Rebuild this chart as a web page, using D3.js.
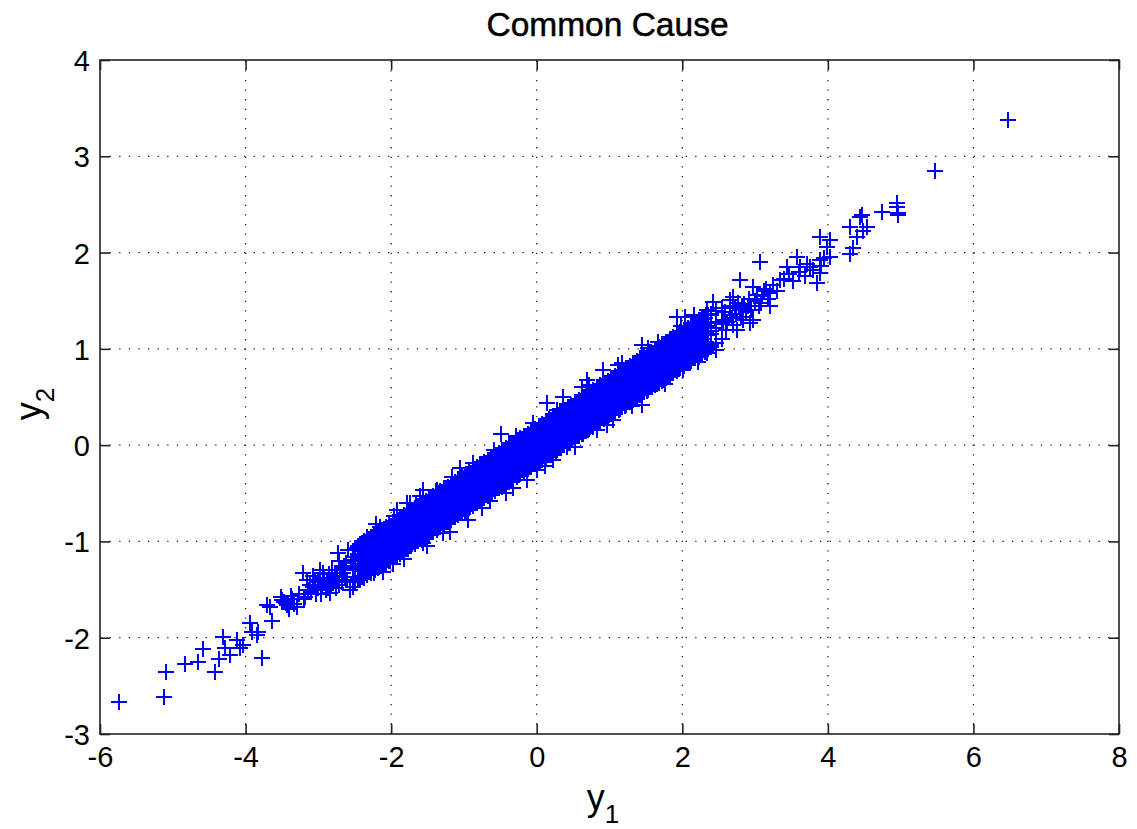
<!DOCTYPE html>
<html>
<head>
<meta charset="utf-8">
<script src="https://cdn.jsdelivr.net/npm/d3@7"></script>
<style>
  html, body { margin: 0; padding: 0; background: #fff; }
  svg { display: block; }
  text { font-family: "Liberation Sans", Arial, Helvetica, sans-serif; fill: #000; }
</style>
</head>
<body>
<svg id="chart" width="1137" height="829"></svg>
<script>
// ---------------- data ----------------
const titleText = "Common Cause";
const xTicks = [-6, -4, -2, 0, 2, 4, 6, 8];
const yTicks = [-3, -2, -1, 0, 1, 2, 3, 4];
const xDomain = [-6, 8];
const yDomain = [-3, 4];

// lower-left tail (y1, y2)
const lowerTail = [
  [-5.74,-2.67],[-5.12,-2.62],[-5.09,-2.36],[-4.83,-2.27],[-4.65,-2.25],[-4.58,-2.12],
  [-4.42,-2.36],[-4.36,-2.22],[-4.31,-1.99],[-4.28,-2.11],[-4.21,-2.18],[-4.12,-2.02],
  [-4.08,-2.11],[-4.04,-2.08],[-3.94,-1.85],[-3.91,-1.94],[-3.84,-1.97],[-3.83,-1.94],
  [-3.78,-2.21],[-3.71,-1.66],[-3.66,-1.68],[-3.64,-1.83],[-3.52,-1.58],[-3.50,-1.61],
  [-3.47,-1.63],[-3.45,-1.64],[-3.43,-1.66],[-3.40,-1.70],[-3.38,-1.57],[-3.36,-1.60],
  [-3.33,-1.65],[-3.29,-1.68],[-3.26,-1.55],[-3.21,-1.33],[-3.20,-1.60],[-3.18,-1.58],
  [-3.16,-1.40],[-3.14,-1.50],[-3.12,-1.45],[-3.10,-1.53],[-3.08,-1.36],[-3.07,-1.47],
  [-3.05,-1.40],[-3.03,-1.55],[-3.01,-1.42],[-3.00,-1.48],[-2.98,-1.30],[-2.96,-1.55],
  [-2.95,-1.45],[-2.93,-1.33],[-2.92,-1.38],[-2.90,-1.50],[-2.88,-1.43],[-2.87,-1.48],
  [-2.86,-1.34],[-2.84,-1.54],[-2.82,-1.46],[-2.81,-1.30],[-2.80,-1.40],[-2.78,-1.40],
  [-2.77,-1.33],[-2.76,-1.48],[-2.74,-1.36],[-2.73,-1.12],[-2.72,-1.20],[-2.71,-1.45],
  [-2.70,-1.30],[-2.68,-1.42],[-2.67,-1.28],[-2.66,-1.33],[-2.65,-1.25],[-2.64,-1.37],
  [-2.62,-1.22],[-2.61,-1.40],[-2.59,-1.09],[-2.57,-1.50],[-2.55,-1.20],[-2.43,-1.30],
  [-2.43,-1.16],[-2.33,-0.95],[-2.29,-1.12],[-2.20,-1.06],[-2.15,-0.85],[-2.06,-1.02],
  [-2.02,-1.16],[-1.98,-1.23],[-1.92,-0.67],[-1.88,-0.95],[-1.74,-0.60],[-1.70,-0.78],
  [-1.60,-0.53],[-1.56,-1.02],[-1.47,-0.75],[-1.37,-0.47]
];

// dense central band, irregular points (y1, y2)
const centralBand = [
  [-2.52,-1.47],[-2.52,-1.30],[-2.52,-1.16],
  [-2.44,-1.40],[-2.44,-1.25],[-2.44,-1.05],
  [-2.37,-1.36],[-2.37,-1.20],[-2.37,-1.02],
  [-2.31,-1.30],[-2.31,-1.12],[-2.31,-0.99],
  [-2.24,-1.33],[-2.24,-1.17],[-2.24,-1.04],[-2.24,-0.93],
  [-2.16,-1.27],[-2.16,-1.10],[-2.16,-0.96],
  [-2.08,-1.22],[-2.08,-1.06],[-2.08,-0.90],
  [-2.01,-1.20],[-2.01,-1.01],[-2.01,-0.86],[-2.01,-1.10],
  [-1.93,-1.14],[-1.93,-0.98],[-1.93,-0.84],
  [-1.87,-1.10],[-1.87,-0.95],[-1.87,-0.78],[-1.87,-1.02],
  [-1.79,-1.08],[-1.79,-0.90],[-1.79,-0.74],
  [-1.72,-1.03],[-1.72,-0.88],[-1.72,-0.72],[-1.72,-0.95],
  [-1.64,-1.00],[-1.64,-0.85],[-1.64,-0.69],
  [-1.57,-0.96],[-1.57,-0.80],[-1.57,-0.66],[-1.57,-0.88],
  [-1.50,-0.93],[-1.50,-0.76],[-1.50,-0.61],
  [-1.43,-0.90],[-1.43,-0.72],[-1.43,-0.58],[-1.43,-0.80],
  [-1.35,-0.86],[-1.35,-0.69],[-1.35,-0.52],
  [-1.28,-0.83],[-1.28,-0.65],[-1.28,-0.49],[-1.28,-0.73],
  [-1.21,-0.79],[-1.21,-0.61],[-1.21,-0.45],
  [-1.13,-0.75],[-1.13,-0.57],[-1.13,-0.42],[-1.13,-0.66],
  [-1.06,-0.70],[-1.06,-0.54],[-1.06,-0.37],
  [-0.99,-0.68],[-0.99,-0.50],[-0.99,-0.33],[-0.99,-0.58],
  [-0.91,-0.64],[-0.91,-0.46],[-0.91,-0.30],
  [-0.84,-0.60],[-0.84,-0.43],[-0.84,-0.26],[-0.84,-0.50],
  [-0.77,-0.56],[-0.77,-0.39],[-0.77,-0.22],
  [-0.69,-0.52],[-0.69,-0.35],[-0.69,-0.19],[-0.69,-0.43],
  [-0.62,-0.49],[-0.62,-0.32],[-0.62,-0.15],
  [-0.55,-0.45],[-0.55,-0.28],[-0.55,-0.11],[-0.55,-0.36],
  [-0.47,-0.42],[-0.47,-0.24],[-0.47,-0.08],
  [-0.40,-0.38],[-0.40,-0.21],[-0.40,-0.04],[-0.40,-0.29],
  [-0.33,-0.35],[-0.33,-0.17],[-0.33,-0.01],
  [-0.25,-0.31],[-0.25,-0.13],[-0.25,0.03],[-0.25,-0.22],
  [-0.18,-0.27],[-0.18,-0.09],[-0.18,0.07],
  [-0.11,-0.23],[-0.11,-0.06],[-0.11,0.10],[-0.11,-0.15],
  [-0.03,-0.20],[-0.03,-0.02],[-0.03,0.14],
  [0.04,-0.17],[0.04,0.01],[0.04,0.18],[0.04,-0.08],
  [0.11,-0.13],[0.11,0.05],[0.11,0.21],
  [0.19,-0.10],[0.19,0.09],[0.19,0.25],[0.19,0.00],
  [0.26,-0.06],[0.26,0.12],[0.26,0.29],
  [0.33,-0.03],[0.33,0.16],[0.33,0.32],[0.33,0.07],
  [0.41,0.01],[0.41,0.20],[0.41,0.36],
  [0.48,0.05],[0.48,0.23],[0.48,0.39],[0.48,0.14],
  [0.55,0.09],[0.55,0.27],[0.55,0.43],
  [0.63,0.12],[0.63,0.31],[0.63,0.47],[0.63,0.22],
  [0.70,0.16],[0.70,0.34],[0.70,0.51],
  [0.77,0.19],[0.77,0.38],[0.77,0.55],[0.77,0.29],
  [0.85,0.23],[0.85,0.42],[0.85,0.58],
  [0.92,0.27],[0.92,0.46],[0.92,0.62],[0.92,0.36],
  [0.99,0.31],[0.99,0.49],[0.99,0.66],
  [1.07,0.34],[1.07,0.53],[1.07,0.70],[1.07,0.44],
  [1.14,0.38],[1.14,0.57],[1.14,0.74],
  [1.21,0.41],[1.21,0.60],[1.21,0.77],[1.21,0.51],
  [1.29,0.45],[1.29,0.64],[1.29,0.81],
  [1.36,0.49],[1.36,0.67],[1.36,0.85],[1.36,0.58],
  [1.43,0.52],[1.43,0.71],[1.43,0.89],
  [1.51,0.56],[1.51,0.75],[1.51,0.92],[1.51,0.66],
  [1.58,0.60],[1.58,0.79],[1.58,0.96],
  [1.65,0.64],[1.65,0.82],[1.65,1.00],[1.65,0.73],
  [1.73,0.68],[1.73,0.86],[1.73,1.04],
  [1.80,0.71],[1.80,0.89],[1.80,1.07],[1.80,0.80],
  [1.87,0.75],[1.87,0.93],[1.87,1.10],
  [1.95,0.79],[1.95,0.97],[1.95,1.14],[1.95,0.88],
  [2.02,0.82],[2.02,1.00],[2.02,1.18],
  [2.09,0.86],[2.09,1.04],[2.09,1.21],
  [2.17,0.90],[2.17,1.08],[2.17,1.25],[2.17,0.98],
  [2.24,0.94],[2.24,1.11],[2.24,1.28],
  [2.31,0.97],[2.31,1.15],[2.31,1.32],
  [2.39,1.02],[2.39,1.19],[2.39,1.35],
  [2.46,1.06],[2.46,1.22],[2.46,1.39],
  [2.54,1.10],[2.54,1.26],[2.54,1.42]
];

// densely packed core of the band: each row is [y1, y2, y2, y2, y2]
const bandCore = [
  [-2.50,-1.42,-1.28,-1.19,-1.07],[-2.45,-1.38,-1.28,-1.13,-1.05],
  [-2.40,-1.37,-1.23,-1.14,-1.02],[-2.35,-1.33,-1.22,-1.09,-1.01],
  [-2.30,-1.32,-1.18,-1.07,-0.97],[-2.25,-1.28,-1.17,-1.06,-0.95],
  [-2.20,-1.27,-1.13,-1.03,-0.92],[-2.15,-1.25,-1.12,-0.99,-0.91],
  [-2.10,-1.21,-1.10,-0.97,-0.87],[-2.05,-1.19,-1.06,-0.96,-0.86],
  [-2.00,-1.16,-1.04,-0.92,-0.84],[-1.95,-1.15,-1.01,-0.91,-0.80],
  [-1.90,-1.11,-1.00,-0.87,-0.78],[-1.85,-1.10,-0.96,-0.86,-0.75],
  [-1.80,-1.06,-0.95,-0.82,-0.74],[-1.75,-1.05,-0.91,-0.81,-0.70],
  [-1.70,-1.01,-0.90,-0.77,-0.69],[-1.65,-1.00,-0.86,-0.76,-0.65],
  [-1.60,-0.96,-0.85,-0.72,-0.64],[-1.55,-0.95,-0.81,-0.71,-0.60],
  [-1.50,-0.91,-0.80,-0.67,-0.59],[-1.45,-0.90,-0.76,-0.66,-0.55],
  [-1.40,-0.86,-0.75,-0.62,-0.54],[-1.35,-0.85,-0.71,-0.61,-0.50],
  [-1.30,-0.81,-0.70,-0.57,-0.49],[-1.25,-0.80,-0.66,-0.56,-0.45],
  [-1.20,-0.76,-0.65,-0.52,-0.44],[-1.15,-0.75,-0.61,-0.51,-0.40],
  [-1.10,-0.71,-0.60,-0.47,-0.39],[-1.05,-0.70,-0.56,-0.46,-0.35],
  [-1.00,-0.66,-0.55,-0.42,-0.34],[-0.95,-0.65,-0.51,-0.41,-0.30],
  [-0.90,-0.61,-0.50,-0.37,-0.29],[-0.85,-0.60,-0.46,-0.36,-0.25],
  [-0.80,-0.56,-0.45,-0.32,-0.24],[-0.75,-0.55,-0.41,-0.31,-0.20],
  [-0.70,-0.51,-0.40,-0.27,-0.19],[-0.65,-0.50,-0.36,-0.26,-0.15],
  [-0.60,-0.46,-0.35,-0.22,-0.14],[-0.55,-0.45,-0.31,-0.21,-0.10],
  [-0.50,-0.41,-0.30,-0.17,-0.09],[-0.45,-0.40,-0.26,-0.16,-0.05],
  [-0.40,-0.36,-0.25,-0.12,-0.04],[-0.35,-0.35,-0.21,-0.11,0.00],
  [-0.30,-0.31,-0.20,-0.07,0.01],[-0.25,-0.30,-0.16,-0.06,0.05],
  [-0.20,-0.26,-0.15,-0.02,0.06],[-0.15,-0.25,-0.11,-0.01,0.10],
  [-0.10,-0.21,-0.10,0.03,0.11],[-0.05,-0.20,-0.06,0.04,0.15],
  [0.00,-0.16,-0.05,0.08,0.16],[0.05,-0.15,-0.01,0.09,0.20],
  [0.10,-0.11,0.00,0.13,0.21],[0.15,-0.10,0.04,0.14,0.25],
  [0.20,-0.06,0.05,0.18,0.26],[0.25,-0.05,0.09,0.19,0.30],
  [0.30,-0.01,0.10,0.23,0.31],[0.35,0.00,0.14,0.24,0.35],
  [0.40,0.04,0.15,0.28,0.36],[0.45,0.05,0.19,0.29,0.40],
  [0.50,0.09,0.20,0.33,0.41],[0.55,0.10,0.24,0.34,0.45],
  [0.60,0.14,0.25,0.38,0.46],[0.65,0.15,0.29,0.39,0.50],
  [0.70,0.19,0.30,0.43,0.51],[0.75,0.20,0.34,0.44,0.55],
  [0.80,0.24,0.35,0.48,0.56],[0.85,0.25,0.39,0.49,0.60],
  [0.90,0.29,0.40,0.53,0.61],[0.95,0.30,0.44,0.54,0.65],
  [1.00,0.34,0.45,0.58,0.66],[1.05,0.35,0.49,0.59,0.70],
  [1.10,0.39,0.50,0.63,0.71],[1.15,0.40,0.54,0.64,0.75],
  [1.20,0.44,0.55,0.68,0.76],[1.25,0.45,0.59,0.69,0.80],
  [1.30,0.49,0.60,0.73,0.81],[1.35,0.50,0.64,0.74,0.85],
  [1.40,0.54,0.65,0.78,0.86],[1.45,0.55,0.69,0.79,0.90],
  [1.50,0.59,0.70,0.83,0.91],[1.55,0.60,0.74,0.84,0.95],
  [1.60,0.64,0.75,0.88,0.96],[1.65,0.65,0.79,0.89,1.00],
  [1.70,0.69,0.80,0.93,1.01],[1.75,0.70,0.84,0.94,1.05],
  [1.80,0.74,0.85,0.98,1.06],[1.85,0.75,0.89,0.99,1.10],
  [1.90,0.79,0.90,1.03,1.11],[1.95,0.80,0.94,1.04,1.15],
  [2.00,0.84,0.95,1.08,1.16],[2.05,0.85,0.99,1.09,1.20],
  [2.10,0.89,1.00,1.13,1.21],[2.15,0.90,1.04,1.14,1.25],
  [2.20,0.94,1.05,1.18,1.26],[2.25,0.95,1.09,1.19,1.30],
  [2.30,0.99,1.10,1.23,1.31],[2.35,1.00,1.14,1.24,1.35],
  [2.40,1.04,1.15,1.28,1.36]
];

// second packed layer between the core columns: [y1, y2, y2, y2, y2, y2]
const bandFill = [
  [-2.425,-1.40,-1.31,-1.20,-1.10,-1.03],
  [-2.375,-1.38,-1.28,-1.18,-1.08,-1.00],[-2.325,-1.35,-1.26,-1.15,-1.05,-0.98],
  [-2.275,-1.33,-1.23,-1.13,-1.03,-0.95],[-2.225,-1.30,-1.21,-1.10,-1.00,-0.93],
  [-2.175,-1.28,-1.18,-1.08,-0.98,-0.90],[-2.125,-1.25,-1.16,-1.05,-0.95,-0.88],
  [-2.075,-1.23,-1.13,-1.03,-0.93,-0.85],[-2.025,-1.20,-1.11,-1.00,-0.90,-0.83],
  [-1.975,-1.18,-1.08,-0.98,-0.88,-0.80],[-1.925,-1.15,-1.06,-0.95,-0.85,-0.78],
  [-1.875,-1.13,-1.03,-0.93,-0.83,-0.75],[-1.825,-1.10,-1.01,-0.90,-0.80,-0.73],
  [-1.775,-1.08,-0.98,-0.88,-0.78,-0.70],[-1.725,-1.05,-0.96,-0.85,-0.75,-0.68],
  [-1.675,-1.03,-0.93,-0.83,-0.73,-0.65],[-1.625,-1.00,-0.91,-0.80,-0.70,-0.63],
  [-1.575,-0.98,-0.88,-0.78,-0.68,-0.60],[-1.525,-0.95,-0.86,-0.75,-0.65,-0.58],
  [-1.475,-0.93,-0.83,-0.73,-0.63,-0.55],[-1.425,-0.90,-0.81,-0.70,-0.60,-0.53],
  [-1.375,-0.88,-0.78,-0.68,-0.58,-0.50],[-1.325,-0.85,-0.76,-0.65,-0.55,-0.48],
  [-1.275,-0.83,-0.73,-0.63,-0.53,-0.45],[-1.225,-0.80,-0.71,-0.60,-0.50,-0.43],
  [-1.175,-0.78,-0.68,-0.58,-0.48,-0.40],[-1.125,-0.75,-0.66,-0.55,-0.45,-0.38],
  [-1.075,-0.73,-0.63,-0.53,-0.43,-0.35],[-1.025,-0.70,-0.61,-0.50,-0.40,-0.33],
  [-0.975,-0.68,-0.58,-0.48,-0.38,-0.30],[-0.925,-0.65,-0.56,-0.45,-0.35,-0.28],
  [-0.875,-0.63,-0.53,-0.43,-0.33,-0.25],[-0.825,-0.60,-0.51,-0.40,-0.30,-0.23],
  [-0.775,-0.58,-0.48,-0.38,-0.28,-0.20],[-0.725,-0.55,-0.46,-0.35,-0.25,-0.18],
  [-0.675,-0.53,-0.43,-0.33,-0.23,-0.15],[-0.625,-0.50,-0.41,-0.30,-0.20,-0.13],
  [-0.575,-0.48,-0.38,-0.28,-0.18,-0.10],[-0.525,-0.45,-0.36,-0.25,-0.15,-0.08],
  [-0.475,-0.43,-0.33,-0.23,-0.13,-0.05],[-0.425,-0.40,-0.31,-0.20,-0.10,-0.03],
  [-0.375,-0.38,-0.28,-0.18,-0.08,0.00],[-0.325,-0.35,-0.26,-0.15,-0.05,0.02],
  [-0.275,-0.33,-0.23,-0.13,-0.03,0.05],[-0.225,-0.30,-0.21,-0.10,0.00,0.07],
  [-0.175,-0.28,-0.18,-0.08,0.02,0.10],[-0.125,-0.25,-0.16,-0.05,0.05,0.12],
  [-0.075,-0.23,-0.13,-0.03,0.07,0.15],[-0.025,-0.20,-0.11,0.00,0.10,0.17],
  [0.025,-0.18,-0.08,0.02,0.12,0.20],[0.075,-0.15,-0.06,0.05,0.15,0.22],
  [0.125,-0.13,-0.03,0.07,0.17,0.25],[0.175,-0.10,-0.01,0.10,0.20,0.27],
  [0.225,-0.08,0.02,0.12,0.22,0.30],[0.275,-0.05,0.04,0.15,0.25,0.32],
  [0.325,-0.03,0.07,0.17,0.27,0.35],[0.375,0.00,0.09,0.20,0.30,0.37],
  [0.425,0.02,0.12,0.22,0.32,0.40],[0.475,0.05,0.14,0.25,0.35,0.42],
  [0.525,0.07,0.17,0.27,0.37,0.45],[0.575,0.10,0.19,0.30,0.40,0.47],
  [0.625,0.12,0.22,0.32,0.42,0.50],[0.675,0.15,0.24,0.35,0.45,0.52],
  [0.725,0.17,0.27,0.37,0.47,0.55],[0.775,0.20,0.29,0.40,0.50,0.57],
  [0.825,0.22,0.32,0.42,0.52,0.60],[0.875,0.25,0.34,0.45,0.55,0.62],
  [0.925,0.27,0.37,0.47,0.57,0.65],[0.975,0.30,0.39,0.50,0.60,0.67],
  [1.025,0.32,0.42,0.52,0.62,0.70],[1.075,0.35,0.44,0.55,0.65,0.72],
  [1.125,0.37,0.47,0.57,0.67,0.75],[1.175,0.40,0.49,0.60,0.70,0.77],
  [1.225,0.42,0.52,0.62,0.72,0.80],[1.275,0.45,0.54,0.65,0.75,0.82],
  [1.325,0.47,0.57,0.67,0.77,0.85],[1.375,0.50,0.59,0.70,0.80,0.87],
  [1.425,0.52,0.62,0.72,0.82,0.90],[1.475,0.55,0.64,0.75,0.85,0.92],
  [1.525,0.57,0.67,0.77,0.87,0.95],[1.575,0.60,0.69,0.80,0.90,0.97],
  [1.625,0.62,0.72,0.82,0.92,1.00],[1.675,0.65,0.74,0.85,0.95,1.02],
  [1.725,0.67,0.77,0.87,0.97,1.05],[1.775,0.70,0.79,0.90,1.00,1.07],
  [1.825,0.72,0.82,0.92,1.02,1.10],[1.875,0.75,0.84,0.95,1.05,1.12],
  [1.925,0.77,0.87,0.97,1.07,1.15],[1.975,0.80,0.89,1.00,1.10,1.17],
  [2.025,0.82,0.92,1.02,1.12,1.20],[2.075,0.85,0.94,1.05,1.15,1.22],
  [2.125,0.87,0.97,1.07,1.17,1.25],[2.175,0.90,0.99,1.10,1.20,1.27],
  [2.225,0.92,1.02,1.12,1.22,1.30],[2.275,0.95,1.04,1.15,1.25,1.32],
  [2.325,0.97,1.07,1.17,1.27,1.35]
];

// scattered points at the band's edges (y1, y2)
const bandEdges = [
  [-1.06,-0.24],[-1.56,-0.47],[-1.78,-0.60],[0.14,0.44],[0.62,0.60],[-0.49,0.12],
  [-1.29,-0.91],[-0.75,-0.65],[-0.33,-0.44],[0.01,-0.26],[0.22,-0.15],[0.41,-0.02],
  [0.77,0.19],[0.36,0.50],[0.69,0.68],[0.91,0.78],[1.17,0.85],[1.44,1.04],[1.66,1.07],
  [0.46,0.02],[0.83,0.16],[1.05,0.26],[1.44,0.42],[1.69,0.71],[2.01,0.78],[2.34,0.96],
  [1.93,1.33],[2.04,1.33],[2.34,1.40],
  [-2.21,-0.82],[-2.11,-1.32],[-1.96,-0.74],[-1.82,-1.18],[-1.66,-0.61],[-1.51,-1.05],
  [-1.39,-0.48],[-1.19,-0.90],[-1.16,-0.33],[-0.94,-0.78],[-0.88,-0.19],[-0.64,-0.58],
  [-0.59,-0.05],[-0.42,-0.50],[-0.28,0.10],[-0.14,-0.36],[-0.05,0.23],[0.12,-0.22],
  [0.28,0.37],[0.52,-0.02],[0.72,0.62],[0.96,0.21],[1.11,0.83],[1.31,0.41],[1.53,1.01],
  [1.76,0.63],[1.98,1.24],[2.21,0.86],[2.42,1.49],[2.16,1.35],[2.47,0.99]
];

// upper-right tail (y1, y2)
const upperTail = [
  [2.56,1.30],[2.58,1.38],[2.60,1.20],[2.62,1.28],[2.65,1.51],[2.65,1.35],[2.66,1.44],
  [2.68,1.32],[2.70,1.25],[2.70,1.54],[2.72,1.42],[2.74,1.36],[2.75,1.20],[2.76,1.48],
  [2.79,1.71],[2.79,1.40],[2.80,1.33],[2.82,1.42],[2.84,1.30],[2.85,1.47],[2.88,1.38],
  [2.90,1.45],[2.92,1.52],[2.93,1.27],[2.95,1.40],[2.97,1.64],[2.97,1.30],[3.00,1.50],
  [3.02,1.56],[3.05,1.44],[3.07,1.90],[3.08,1.48],[3.10,1.55],[3.12,1.60],[3.15,1.62],
  [3.18,1.52],[3.20,1.58],[3.20,1.44],[3.25,1.66],[3.30,1.60],[3.34,1.72],[3.40,1.73],
  [3.44,1.85],[3.47,1.78],[3.52,1.70],[3.57,1.95],[3.60,1.80],[3.62,1.85],[3.68,1.76],
  [3.72,1.88],[3.75,1.85],[3.80,1.82],[3.85,1.68],[3.89,1.79],[3.89,2.16],[3.89,1.92],
  [3.90,1.86],[3.95,1.94],[3.99,2.06],[4.03,2.13],[4.03,1.95],[4.30,1.99],[4.30,2.27],
  [4.34,2.05],[4.40,2.16],[4.44,2.37],[4.48,2.22],[4.54,2.27],[4.47,2.39],[4.74,2.42],
  [4.95,2.47],[4.97,2.41],[4.96,2.39],[4.95,2.51],[5.47,2.85],[6.47,3.38]
];

// ---------------- chart ----------------
const svg = d3.select("#chart");
const plot = { left: 100, top: 60, right: 1119, bottom: 734 };

const x = d3.scaleLinear().domain(xDomain).range([plot.left, plot.right]);
const y = d3.scaleLinear().domain(yDomain).range([plot.bottom, plot.top]);

// grid
const grid = svg.append("g").attr("class", "grid")
  .attr("stroke", "#222").attr("stroke-width", 1.3)
  .attr("stroke-dasharray", "1.3,8.3").attr("fill", "none");
grid.selectAll("line.gx").data(xTicks.filter(t => t > xDomain[0] && t < xDomain[1]))
  .join("line").attr("class", "gx")
  .attr("x1", d => x(d)).attr("x2", d => x(d))
  .attr("y1", plot.bottom).attr("y2", plot.top);
grid.selectAll("line.gy").data(yTicks.filter(t => t > yDomain[0] && t < yDomain[1]))
  .join("line").attr("class", "gy")
  .attr("y1", d => y(d)).attr("y2", d => y(d))
  .attr("x1", plot.left).attr("x2", plot.right);

// markers
const packed = [];
[bandCore, bandFill].forEach(tbl => tbl.forEach(r => {
  for (let i = 1; i < r.length; i++) packed.push([r[0], r[i]]);
}));
const allPoints = [].concat(lowerTail, centralBand, packed, bandEdges, upperTail);
svg.append("g").attr("class", "marks")
  .attr("stroke", "#0000ff").attr("stroke-width", 2).attr("fill", "none")
  .attr("shape-rendering", "crispEdges")
  .selectAll("path").data(allPoints).join("path")
  .attr("transform", d => `translate(${Math.round(x(d[0]))},${Math.round(y(d[1]))})`)
  .attr("d", "M-8,0H8M0,-8V8");

// axes
const tickFont = 29;
const fmt = d => String(d);
const axB = svg.append("g").attr("transform", `translate(0,${plot.bottom})`)
  .call(d3.axisBottom(x).tickValues(xTicks).tickFormat(fmt).tickSize(-10).tickSizeOuter(0).tickPadding(12));
const axL = svg.append("g").attr("transform", `translate(${plot.left},0)`)
  .call(d3.axisLeft(y).tickValues(yTicks).tickFormat(fmt).tickSize(-10).tickSizeOuter(0).tickPadding(10));
const axT = svg.append("g").attr("transform", `translate(0,${plot.top})`)
  .call(d3.axisTop(x).tickValues(xTicks).tickSize(-10).tickSizeOuter(0).tickFormat(""));
const axR = svg.append("g").attr("transform", `translate(${plot.right},0)`)
  .call(d3.axisRight(y).tickValues(yTicks).tickSize(-10).tickSizeOuter(0).tickFormat(""));

[axB, axL, axT, axR].forEach(a => {
  a.select(".domain").remove();
  a.selectAll(".tick line").attr("stroke", "#222").attr("stroke-width", 1.6);
  a.selectAll(".tick text")
    .attr("font-size", tickFont)
    .attr("font-family", "'Liberation Sans', Arial, sans-serif")
    .attr("fill", "#111");
});
axL.selectAll(".tick text").attr("dy", "0.36em");

// box
svg.append("rect")
  .attr("x", plot.left).attr("y", plot.top)
  .attr("width", plot.right - plot.left).attr("height", plot.bottom - plot.top)
  .attr("fill", "none").attr("stroke", "#222").attr("stroke-width", 1.6);

// title
svg.append("text")
  .attr("x", (plot.left + plot.right) / 2 - 2).attr("y", 36)
  .attr("text-anchor", "middle").attr("font-size", 33.5)
  .attr("stroke", "#000").attr("stroke-width", 0.5)
  .text(titleText);

// x label  y1
const xl = svg.append("text")
  .attr("x", 603).attr("y", 810).attr("text-anchor", "middle")
  .attr("font-size", 36);
xl.append("tspan").text("y");
xl.append("tspan").attr("font-size", 26).attr("dy", 13).text("1");

// y label  y2
const yl = svg.append("text")
  .attr("transform", "translate(41,404) rotate(-90)")
  .attr("text-anchor", "middle").attr("font-size", 36);
yl.append("tspan").text("y");
yl.append("tspan").attr("font-size", 26).attr("dy", 13).text("2");
</script>
</body>
</html>
